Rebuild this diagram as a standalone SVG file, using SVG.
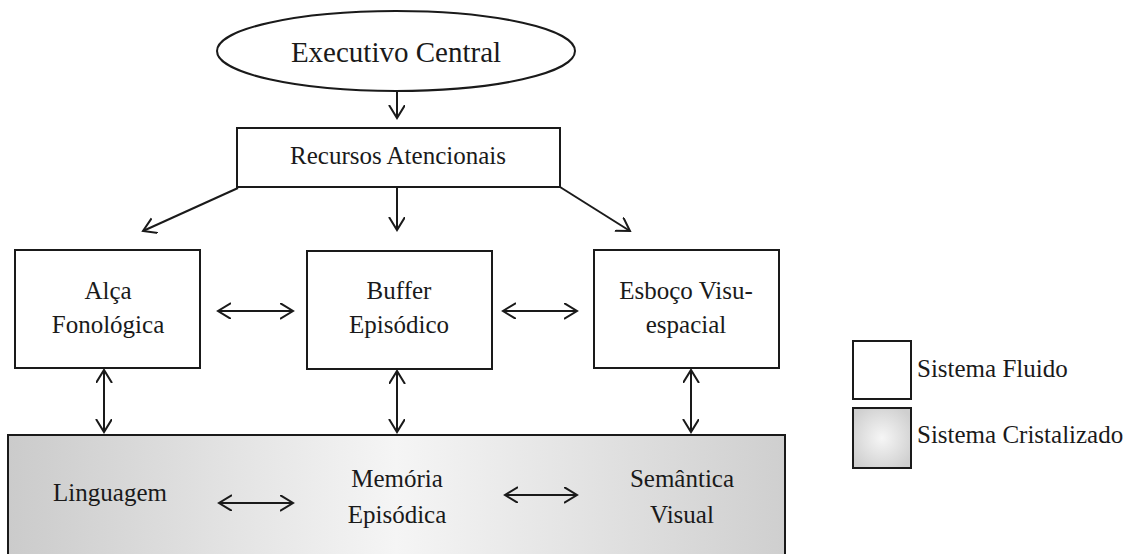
<svg xmlns="http://www.w3.org/2000/svg" width="1128" height="554" viewBox="0 0 1128 554">
  <style>
    .box { fill: #ffffff; stroke: #1a1a1a; stroke-width: 2; }
    .lbl { font-family: 'Liberation Serif', 'DejaVu Serif', serif; fill: #1a1a1a; text-anchor: middle; }
    .leg { font-family: 'Liberation Serif', 'DejaVu Serif', serif; fill: #1a1a1a; font-size: 25px; }
    .conn { stroke: #1a1a1a; stroke-width: 2; fill: none; }
  </style>
  <defs>
    <marker id="head" markerUnits="userSpaceOnUse" markerWidth="20" markerHeight="20" refX="13" refY="8" orient="auto-start-reverse">
      <path d="M0,0 L13,8 L0,16" fill="none" stroke="#1a1a1a" stroke-width="2"/>
    </marker>
    <linearGradient id="crystal" x1="0" y1="0" x2="1" y2="0">
      <stop offset="0" stop-color="#cbcbcb"/>
      <stop offset="0.5" stop-color="#f5f5f5"/>
      <stop offset="1" stop-color="#cfcfcf"/>
    </linearGradient>
    <radialGradient id="crystalLegend" cx="0.5" cy="0.5" r="0.6">
      <stop offset="0" stop-color="#f6f6f6"/>
      <stop offset="1" stop-color="#cfcfcf"/>
    </radialGradient>
  </defs>

  <g id="executivo-central">
    <ellipse cx="396" cy="51" rx="179" ry="40" class="box"/>
    <text x="396" y="62" class="lbl" font-size="29">Executivo Central</text>
  </g>

  <g id="recursos-atencionais">
    <rect x="237" y="128" width="323" height="59" class="box"/>
    <text x="398" y="164" class="lbl" font-size="25">Recursos Atencionais</text>
  </g>

  <g id="alca-fonologica">
    <rect x="15" y="250" width="185" height="118" class="box"/>
    <text x="108" y="299" class="lbl" font-size="25">Alça</text>
    <text x="108" y="333" class="lbl" font-size="25">Fonológica</text>
  </g>

  <g id="buffer-episodico">
    <rect x="307" y="251" width="185" height="118" class="box"/>
    <text x="399" y="299" class="lbl" font-size="25">Buffer</text>
    <text x="399" y="333" class="lbl" font-size="25">Episódico</text>
  </g>

  <g id="esboco-visuespacial">
    <rect x="594" y="250" width="185" height="118" class="box"/>
    <text x="686" y="299" class="lbl" font-size="25">Esboço Visu-</text>
    <text x="686" y="333" class="lbl" font-size="25">espacial</text>
  </g>

  <g id="sistema-cristalizado">
    <rect x="8" y="435" width="777" height="130" fill="url(#crystal)" stroke="#1a1a1a" stroke-width="2"/>
    <text x="110" y="501" class="lbl" font-size="25">Linguagem</text>
    <text x="397" y="487" class="lbl" font-size="25">Memória</text>
    <text x="397" y="523" class="lbl" font-size="25">Episódica</text>
    <text x="682" y="487" class="lbl" font-size="25">Semântica</text>
    <text x="682" y="523" class="lbl" font-size="25">Visual</text>
  </g>

  <g id="connectors">
    <line x1="397" y1="92" x2="397" y2="118" class="conn" marker-end="url(#head)"/>
    <line x1="238" y1="188" x2="143" y2="231" class="conn" marker-end="url(#head)"/>
    <line x1="397" y1="188" x2="397" y2="230" class="conn" marker-end="url(#head)"/>
    <line x1="560" y1="187" x2="630" y2="231" class="conn" marker-end="url(#head)"/>
    <line x1="218" y1="311" x2="293" y2="311" class="conn" marker-start="url(#head)" marker-end="url(#head)"/>
    <line x1="503" y1="311" x2="577" y2="311" class="conn" marker-start="url(#head)" marker-end="url(#head)"/>
    <line x1="104" y1="370" x2="104" y2="432" class="conn" marker-start="url(#head)" marker-end="url(#head)"/>
    <line x1="397" y1="371" x2="397" y2="432" class="conn" marker-start="url(#head)" marker-end="url(#head)"/>
    <line x1="691" y1="370" x2="691" y2="432" class="conn" marker-start="url(#head)" marker-end="url(#head)"/>
    <line x1="219" y1="503" x2="293" y2="503" class="conn" marker-start="url(#head)" marker-end="url(#head)"/>
    <line x1="505" y1="495" x2="577" y2="495" class="conn" marker-start="url(#head)" marker-end="url(#head)"/>
  </g>

  <g id="legenda">
    <rect x="853" y="341" width="58" height="58" class="box"/>
    <text x="917" y="377" class="leg">Sistema Fluido</text>
    <rect x="853" y="408" width="58" height="60" fill="url(#crystalLegend)" stroke="#1a1a1a" stroke-width="2"/>
    <text x="917" y="443" class="leg">Sistema Cristalizado</text>
  </g>
</svg>
